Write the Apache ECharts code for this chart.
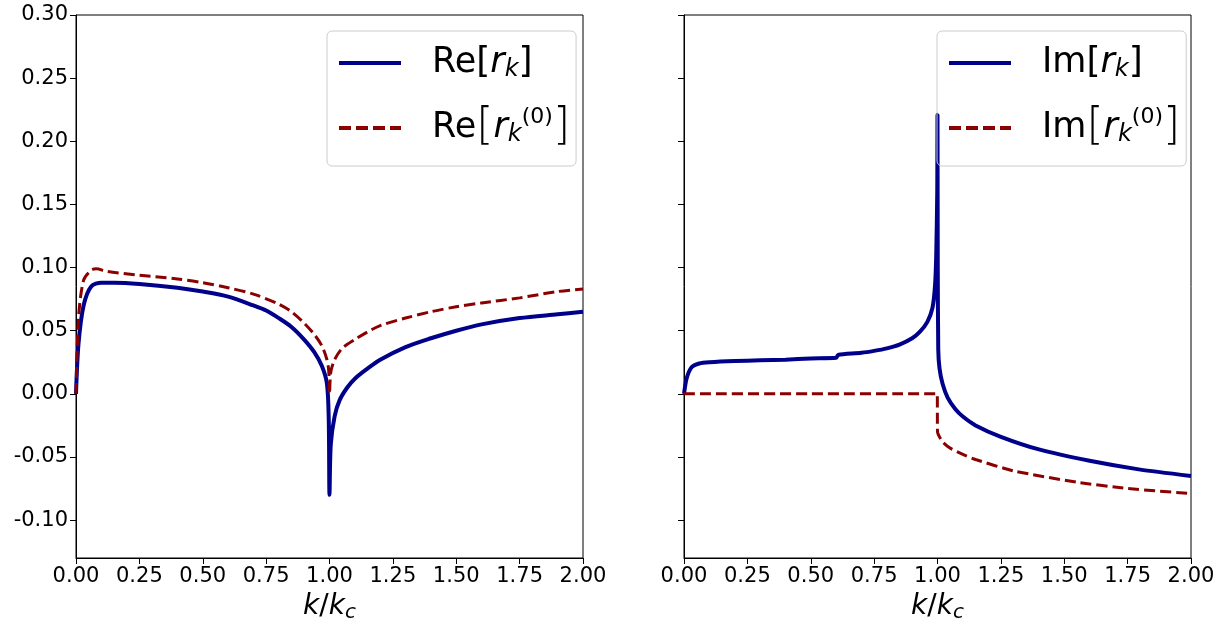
<!DOCTYPE html>
<html><head><meta charset="utf-8">
<script src="https://cdn.jsdelivr.net/npm/echarts@6/dist/echarts.min.js"></script>
<style>html,body{margin:0;background:#fff}#c{width:1221px;height:626px}</style>
</head><body><div id="c"></div>
<script>
const reK   = [0,0.01,0.03,0.06,0.1,0.15,0.25,0.4,0.5,0.6,0.7,0.75,0.8,0.85,0.9,0.94,0.97,0.99,0.997,1.0,1.005,1.02,1.04,1.07,1.1,1.15,1.2,1.3,1.4,1.5,1.6,1.75,1.9,2.0];
const reRk  = [0,0.04,0.07,0.085,0.088,0.088,0.087,0.084,0.081,0.077,0.070,0.066,0.060,0.053,0.043,0.033,0.022,0.008,-0.02,-0.08,-0.04,-0.018,-0.005,0.005,0.012,0.02,0.027,0.037,0.044,0.05,0.055,0.06,0.063,0.065];
const reR0K = [0,0.01,0.03,0.06,0.08,0.12,0.25,0.4,0.5,0.6,0.7,0.8,0.85,0.9,0.94,0.97,0.99,0.997,1.0,1.005,1.02,1.05,1.1,1.15,1.2,1.3,1.4,1.5,1.6,1.75,1.9,2.0];
const reR0  = [0,0.06,0.09,0.098,0.099,0.097,0.094,0.091,0.088,0.084,0.079,0.071,0.065,0.056,0.047,0.038,0.027,0.018,0.0,0.017,0.027,0.036,0.043,0.049,0.054,0.06,0.065,0.069,0.072,0.076,0.081,0.083];
const imK   = [0,0.01,0.03,0.06,0.1,0.2,0.3,0.4,0.5,0.6,0.605,0.61,0.7,0.75,0.8,0.85,0.9,0.93,0.96,0.98,0.99,0.995,0.999,1.0,1.001,1.003,1.008,1.02,1.04,1.07,1.1,1.15,1.25,1.4,1.6,1.8,2.0];
const imRk  = [0,0.012,0.021,0.024,0.025,0.026,0.0265,0.027,0.028,0.0285,0.030,0.031,0.0325,0.034,0.036,0.039,0.044,0.049,0.057,0.068,0.085,0.11,0.16,0.221,0.1,0.035,0.02,0.008,-0.003,-0.012,-0.018,-0.025,-0.034,-0.044,-0.053,-0.06,-0.065];
const imR0K = [0,0.5,0.999,1.0,1.005,1.02,1.05,1.1,1.15,1.3,1.55,1.75,2.0];
const imR0  = [0,0,0,-0.03,-0.033,-0.038,-0.043,-0.048,-0.052,-0.061,-0.07,-0.075,-0.079];
const xTicks = [0,0.25,0.5,0.75,1,1.25,1.5,1.75,2];
const yTicks = [-0.10,-0.05,0,0.05,0.10,0.15,0.20,0.25,0.30];

const pair = (xs, ys) => xs.map((x,i)=>[x,ys[i]]);
const blue = '#00008b', red = '#8b0000';
const F = 'DejaVu Sans';
const rich = {
  n:{fontFamily:F,fontSize:35,color:'#000'},
  i:{fontFamily:F,fontSize:35,fontStyle:'italic',color:'#000'},
  s:{fontFamily:F,fontSize:24,fontStyle:'italic',color:'#000',padding:[14,0,0,0]},
  sup:{fontFamily:F,fontSize:22,color:'#000',padding:[0,0,22,0]},
  bb:{fontFamily:F,fontSize:36,color:'#000'},
  bt:{fontFamily:F,fontSize:44,color:'#000',fontWeight:'lighter'}
};
function xAxis(idx){return {type:'value',gridIndex:idx,min:0,max:2,interval:0.25,
  axisLine:{onZero:false,lineStyle:{color:'#000',width:1}},axisTick:{length:6,lineStyle:{color:'#000'}},
  splitLine:{show:false},
  axisLabel:{fontFamily:F,fontSize:21,color:'#000',margin:8,formatter:v=>v.toFixed(2)},
  name:'{i|k}{n|/}{i|k}{s|c}',nameLocation:'middle',nameGap:33,
  nameTextStyle:{rich:{i:{fontFamily:F,fontSize:28,fontStyle:'italic'},n:{fontFamily:F,fontSize:28},s:{fontFamily:F,fontSize:20,fontStyle:'italic',padding:[12,0,0,0]}}}};}
function yAxis(idx,labels){return {type:'value',gridIndex:idx,min:-0.13,max:0.30,
  axisLine:{show:true,lineStyle:{color:'#000'}},axisTick:{show:true,length:6,customValues:yTicks,lineStyle:{color:'#000'}},
  axisLabel:{show:labels,customValues:yTicks,fontFamily:F,fontSize:21,color:'#000',margin:8,formatter:v=>v.toFixed(2)},
  splitLine:{show:false}};}
const chart = echarts.init(document.getElementById('c'));
const dashIcon = 'path://M0,0h12v4h-12z M17,0h12v4h-12z M34,0h12v4h-12z M51,0h11v4h-11z';
const legendBase = {top:31,width:239,orient:'vertical',itemWidth:62,itemHeight:4,itemGap:24,
     padding:[14,6,16,12],borderColor:'#ccc',borderWidth:1,borderRadius:5,icon:'rect',
     textStyle:{rich,padding:[0,0,0,26]}};
chart.setOption({
  animation:false,
  grid:[{left:76,width:507,top:15,height:543,show:true,borderColor:'#000',borderWidth:1,outerBoundsMode:'none',containLabel:false},
        {left:684,width:507,top:15,height:543,show:true,borderColor:'#000',borderWidth:1,outerBoundsMode:'none',containLabel:false}],
  xAxis:[xAxis(0),xAxis(1)],
  yAxis:[yAxis(0,true),yAxis(1,false)],
  legend:[
    Object.assign({left:327,data:[{name:'Re1'},{name:'Re0',icon:dashIcon}],
     formatter:n=> n==='Re1' ? '{n|Re}{bb|[}{i|r}{s|k}{bb|]}' : '{n|Re}{bt|[}{i|r}{s|k}{sup|(0)}{bt|]}'},legendBase),
    Object.assign({left:937,data:[{name:'Im1'},{name:'Im0',icon:dashIcon}],
     formatter:n=> n==='Im1' ? '{n|Im}{bb|[}{i|r}{s|k}{bb|]}' : '{n|Im}{bt|[}{i|r}{s|k}{sup|(0)}{bt|]}'},legendBase)
  ],
  series:[
    {name:'Re1',type:'line',xAxisIndex:0,yAxisIndex:0,data:pair(reK,reRk),symbol:'none',smooth:0.3,color:blue,lineStyle:{width:4,color:blue}},
    {name:'Re0',type:'line',xAxisIndex:0,yAxisIndex:0,data:pair(reR0K,reR0),symbol:'none',smooth:0.3,color:red,lineStyle:{width:3,color:red,type:[11,5]}},
    {name:'Im1',type:'line',xAxisIndex:1,yAxisIndex:1,data:pair(imK,imRk),symbol:'none',smooth:0.2,color:blue,lineStyle:{width:4,color:blue}},
    {name:'Im0',type:'line',xAxisIndex:1,yAxisIndex:1,data:pair(imR0K,imR0),symbol:'none',smooth:0.2,color:red,lineStyle:{width:3,color:red,type:[11,5]}}
  ]
});
</script></body></html>
